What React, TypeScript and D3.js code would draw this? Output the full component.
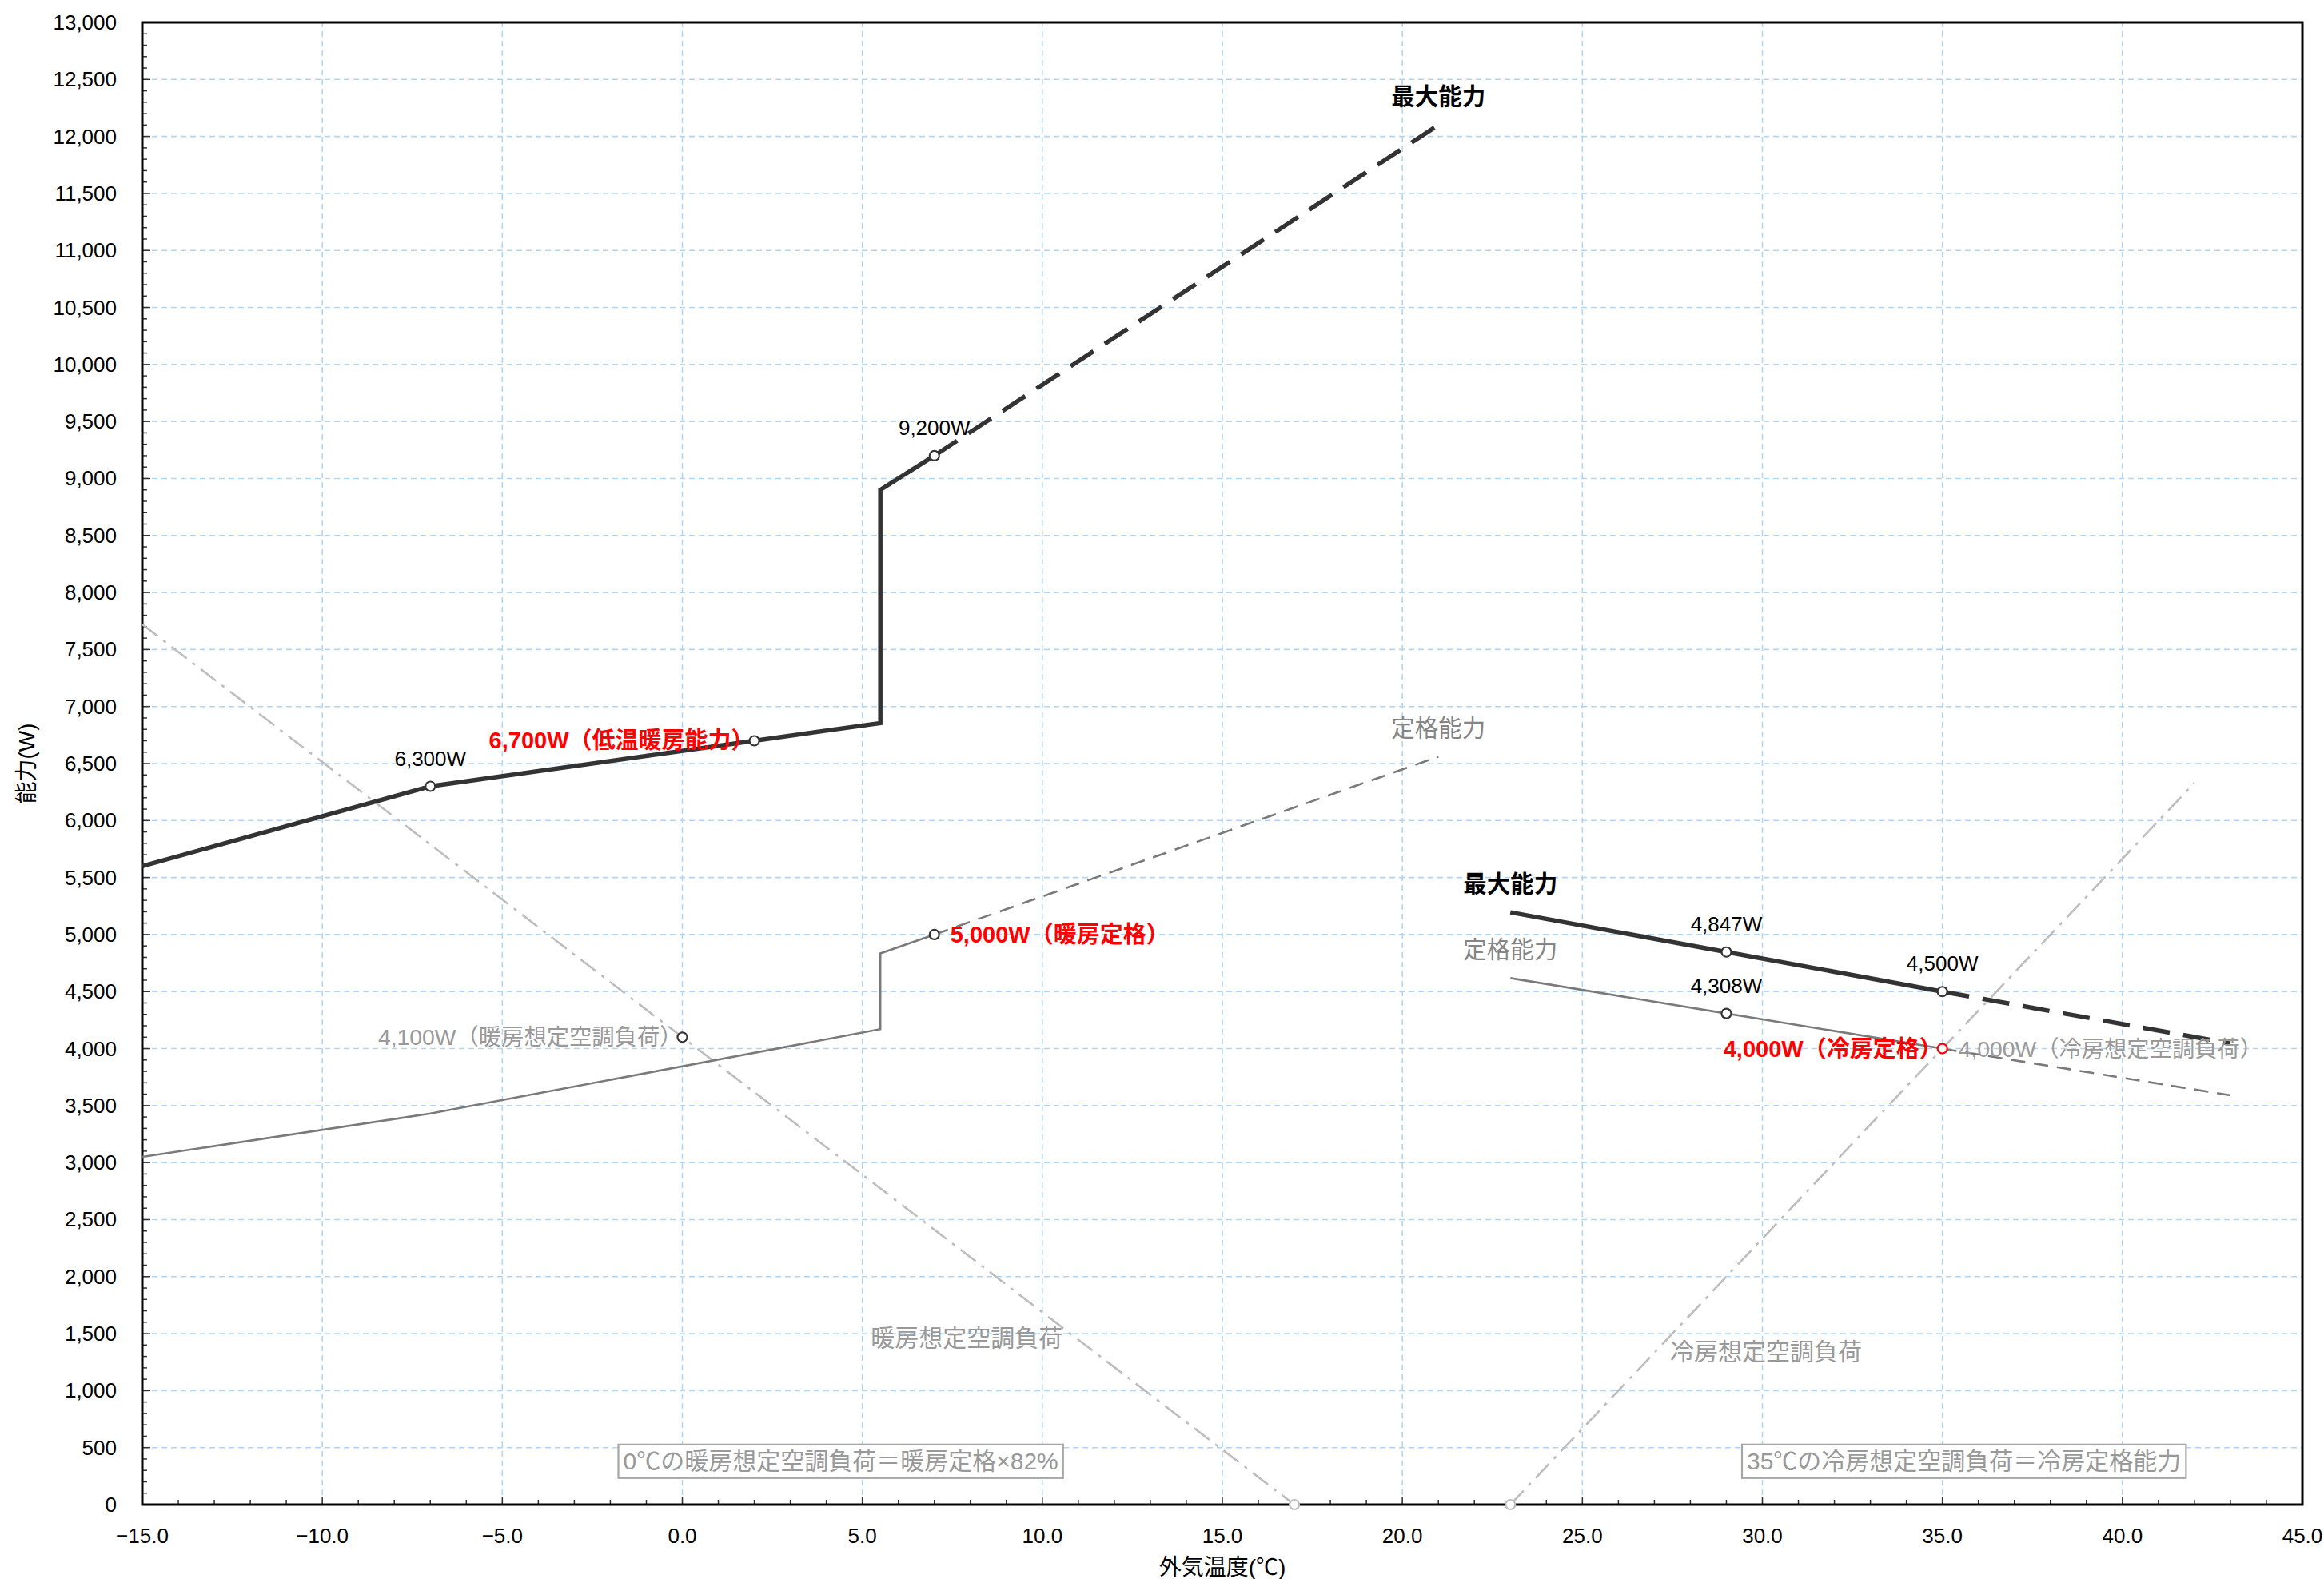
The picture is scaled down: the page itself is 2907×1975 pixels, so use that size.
import React, { useEffect, useRef } from "react";
import * as d3 from "d3";

type P = [number, number];

// ---- data (°C, W) ----
const heatMaxSolid: P[] = [[-15, 5600], [-7, 6300], [2, 6700], [5.5, 6855], [5.5, 8900], [7, 9200]];
const heatMaxDashed: P[] = [[7, 9200], [21, 12100]];
const heatRatedSolid: P[] = [[-15, 3050], [-7, 3430], [5.5, 4170], [5.5, 4835], [7, 5000]];
const heatRatedDashed: P[] = [[7, 5000], [21, 6560]];
const heatLoad: P[] = [[-15, 7720], [0, 4100], [17, 0]];
const coolMaxSolid: P[] = [[23, 5195], [29, 4847], [35, 4500]];
const coolMaxDashed: P[] = [[35, 4500], [43, 4045]];
const coolRatedSolid: P[] = [[23, 4618], [29, 4308], [35, 4000]];
const coolRatedDashed: P[] = [[35, 4000], [43, 3590]];
const coolLoad: P[] = [[23, 0], [35, 4000], [42, 6330]];

const xTicks = [-15, -10, -5, 0, 5, 10, 15, 20, 25, 30, 35, 40, 45];
const yTicks = d3.range(0, 13001, 500);

// marked points
const darkPoints: P[] = [[-7, 6300], [2, 6700], [7, 9200], [7, 5000], [0, 4100], [29, 4847], [35, 4500], [29, 4308]];
const grayPoints: P[] = [[17, 0], [23, 0]];
const redPoints: P[] = [[35, 4000]];

// value labels above points
const aboveLabels: { at: P; text: string }[] = [
  { at: [7, 9200], text: "9,200W" },
  { at: [-7, 6300], text: "6,300W" },
  { at: [29, 4847], text: "4,847W" },
  { at: [35, 4500], text: "4,500W" },
  { at: [29, 4308], text: "4,308W" },
];
// series names
const seriesNames: { at: P; text: string; kind: "black" | "gray" }[] = [
  { at: [21, 12100], text: "最大能力", kind: "black" },
  { at: [21, 6560], text: "定格能力", kind: "gray" },
  { at: [23, 5195], text: "最大能力", kind: "black" },
  { at: [23, 4618], text: "定格能力", kind: "gray" },
];
const sideLabels: { at: P; text: string; side: "left" | "right"; kind: "red" | "gray" }[] = [
  { at: [2, 6700], text: "6,700W（低温暖房能力）", side: "left", kind: "red" },
  { at: [7, 5000], text: "5,000W（暖房定格）", side: "right", kind: "red" },
  { at: [0, 4100], text: "4,100W（暖房想定空調負荷）", side: "left", kind: "gray" },
  { at: [35, 4000], text: "4,000W（冷房定格）", side: "left", kind: "red" },
  { at: [35, 4000], text: "4,000W（冷房想定空調負荷）", side: "right", kind: "gray" },
];
const loadNames: { at: P; text: string }[] = [
  { at: [7.9, 1460], text: "暖房想定空調負荷" },
  { at: [30.1, 1340], text: "冷房想定空調負荷" },
];
const noteBoxes: { at: P; text: string }[] = [
  { at: [4.4, 380], text: "0℃の暖房想定空調負荷＝暖房定格×82%" },
  { at: [35.6, 380], text: "35℃の冷房想定空調負荷＝冷房定格能力" },
];

const W = 2907;
const H = 1975;
const M = { left: 178, right: 27, top: 28, bottom: 93 };
const FONT = "'Liberation Sans', 'Noto Sans CJK JP', sans-serif";

export default function App() {
  const ref = useRef<SVGSVGElement>(null);

  useEffect(() => {
    const svg = d3.select(ref.current);
    svg.selectAll("*").remove();
    svg.attr("font-family", FONT);

    const x = d3.scaleLinear().domain([-15, 45]).range([M.left, W - M.right]);
    const y = d3.scaleLinear().domain([0, 13000]).range([H - M.bottom, M.top]);
    const line = d3.line<P>().x((d) => x(d[0])).y((d) => y(d[1]));

    // grid
    const grid = svg.append("g");
    grid.selectAll("line.gy").data(yTicks.filter((v) => v > 0 && v < 13000)).join("line")
      .attr("x1", x(-15)).attr("x2", x(45)).attr("y1", (d) => y(d)).attr("y2", (d) => y(d))
      .attr("stroke", "#b0d6f7").attr("stroke-width", 1.6).attr("stroke-dasharray", "7,5");
    grid.selectAll("line.gx").data(xTicks.filter((v) => v > -15 && v < 45)).join("line")
      .attr("y1", y(0)).attr("y2", y(13000)).attr("x1", (d) => x(d)).attr("x2", (d) => x(d))
      .attr("stroke", "#b0d6f7").attr("stroke-width", 1.6).attr("stroke-dasharray", "7,5");

    // minor / major ticks (inside)
    const tk = svg.append("g").attr("stroke", "#333").attr("stroke-width", 1.5);
    d3.range(-15, 45.01, 1).forEach((v) => {
      const major = Math.abs(v % 5) < 1e-6;
      tk.append("line").attr("x1", x(v)).attr("x2", x(v)).attr("y1", y(0)).attr("y2", y(0) - (major ? 10 : 6));
    });
    d3.range(0, 13001, 100).forEach((v) => {
      const major = v % 500 === 0;
      tk.append("line").attr("y1", y(v)).attr("y2", y(v)).attr("x1", x(-15)).attr("x2", x(-15) + (major ? 10 : 6));
    });

    // frame
    svg.append("rect").attr("x", x(-15)).attr("y", y(13000)).attr("width", x(45) - x(-15)).attr("height", y(0) - y(13000))
      .attr("fill", "none").attr("stroke", "#000").attr("stroke-width", 3);

    // tick labels
    svg.append("g").selectAll("text").data(xTicks).join("text")
      .attr("x", (d) => x(d)).attr("y", y(0) + 39).attr("text-anchor", "middle").attr("dominant-baseline", "central")
      .attr("font-size", 26).attr("fill", "#000").text((d) => d3.format(".1f")(d));
    svg.append("g").selectAll("text").data(yTicks).join("text")
      .attr("x", M.left - 32).attr("y", (d) => y(d)).attr("text-anchor", "end").attr("dominant-baseline", "central")
      .attr("font-size", 26).attr("fill", "#000").text((d) => d3.format(",")(d));

    // axis titles
    svg.append("text").attr("x", (x(-15) + x(45)) / 2).attr("y", 1960).attr("text-anchor", "middle")
      .attr("dominant-baseline", "central").attr("font-size", 28).attr("fill", "#000").text("外気温度(℃)");
    svg.append("text").attr("transform", `translate(33, ${(y(0) + y(13000)) / 2}) rotate(-90)`)
      .attr("text-anchor", "middle").attr("dominant-baseline", "central").attr("font-size", 28).attr("fill", "#000").text("能力(W)");

    // load lines
    const loadStyle = (p: d3.Selection<SVGPathElement, unknown, null, undefined>) =>
      p.attr("fill", "none").attr("stroke", "#bdbdbd").attr("stroke-width", 2.6).attr("stroke-dasharray", "24,9,4,9");
    loadStyle(svg.append("path").attr("d", line(heatLoad)!));
    loadStyle(svg.append("path").attr("d", line(coolLoad)!));

    // rated lines
    const rated = (pts: P[], dashed: boolean) =>
      svg.append("path").attr("d", line(pts)!).attr("fill", "none").attr("stroke", "#7a7a7a").attr("stroke-width", 2.6)
        .attr("stroke-dasharray", dashed ? "18,11" : null);
    rated(heatRatedSolid, false);
    rated(heatRatedDashed, true);
    rated(coolRatedSolid, false);
    rated(coolRatedDashed, true);

    // max lines
    const maxl = (pts: P[], dashed: boolean) =>
      svg.append("path").attr("d", line(pts)!).attr("fill", "none").attr("stroke", "#333").attr("stroke-width", 5.5)
        .attr("stroke-dasharray", dashed ? "34,17" : null).attr("stroke-linejoin", "miter");
    maxl(heatMaxSolid, false);
    maxl(heatMaxDashed, true);
    maxl(coolMaxSolid, false);
    maxl(coolMaxDashed, true);

    // points
    const pts = (data: P[], color: string) =>
      svg.append("g").selectAll("circle").data(data).join("circle")
        .attr("cx", (d) => x(d[0])).attr("cy", (d) => y(d[1])).attr("r", 6)
        .attr("fill", "#fff").attr("stroke", color).attr("stroke-width", 2.2);
    pts(grayPoints, "#bdbdbd");
    pts(darkPoints, "#333");
    pts(redPoints, "#ff0000");

    // labels above points
    svg.append("g").selectAll("text").data(aboveLabels).join("text")
      .attr("x", (d) => x(d.at[0])).attr("y", (d) => y(d.at[1]) - 35)
      .attr("text-anchor", "middle").attr("dominant-baseline", "central").attr("font-size", 26).attr("fill", "#000")
      .text((d) => d.text);

    svg.append("g").selectAll("text").data(seriesNames).join("text")
      .attr("x", (d) => x(d.at[0])).attr("y", (d) => y(d.at[1]) - 36)
      .attr("text-anchor", "middle").attr("dominant-baseline", "central").attr("font-size", 29.5)
      .attr("fill", (d) => (d.kind === "black" ? "#000" : "#858585"))
      .attr("font-weight", (d) => (d.kind === "black" ? 700 : 400))
      .text((d) => d.text);

    svg.append("g").selectAll("text").data(sideLabels).join("text")
      .attr("x", (d) => x(d.at[0]) + (d.side === "left" ? 0 : 20))
      .attr("y", (d) => y(d.at[1]))
      .attr("text-anchor", (d) => (d.side === "left" ? "end" : "start")).attr("dominant-baseline", "central")
      .attr("font-size", (d) => (d.kind === "red" ? 29 : 28.3))
      .attr("font-weight", (d) => (d.kind === "red" ? 700 : 400))
      .attr("fill", (d) => (d.kind === "red" ? "#ff0000" : "#999"))
      .text((d) => d.text);

    svg.append("g").selectAll("text").data(loadNames).join("text")
      .attr("x", (d) => x(d.at[0])).attr("y", (d) => y(d.at[1]))
      .attr("text-anchor", "middle").attr("dominant-baseline", "central").attr("font-size", 30).attr("fill", "#999")
      .text((d) => d.text);

    // note boxes
    noteBoxes.forEach((b) => {
      const g = svg.append("g");
      const r = g.append("rect");
      const t = g.append("text").attr("x", x(b.at[0])).attr("y", y(b.at[1]))
        .attr("text-anchor", "middle").attr("dominant-baseline", "central").attr("font-size", 30).attr("fill", "#999")
        .text(b.text);
      const bb = (t.node() as SVGTextElement).getBBox();
      r.attr("x", bb.x - 6).attr("y", y(b.at[1]) - 21).attr("width", bb.width + 12).attr("height", 42)
        .attr("fill", "#fff").attr("stroke", "#a6a6a6").attr("stroke-width", 2.2);
    });
  }, []);

  return (
    <>
      <style>{`body{margin:0}`}</style>
      <svg ref={ref} width={W} height={H} style={{ display: "block", background: "#fff" }} />
    </>
  );
}
